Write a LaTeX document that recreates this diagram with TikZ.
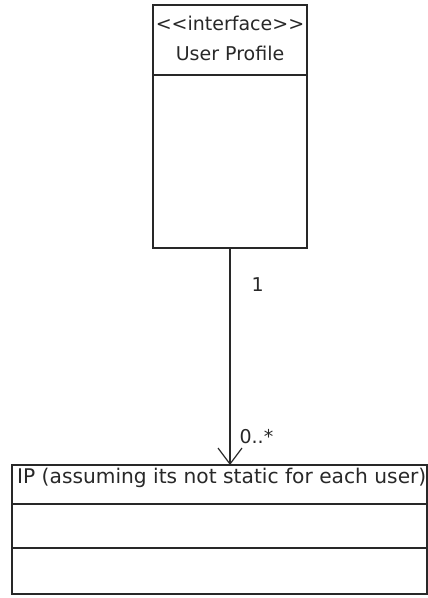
\documentclass[tikz,border=0pt]{standalone}
\usepackage{fontspec}
\setmainfont{DejaVu Sans}
\usetikzlibrary{arrows.meta,positioning}
\definecolor{umlInk}{RGB}{40,40,40}

\begin{document}
\begin{tikzpicture}[x=1pt,y=-1pt,
      cls/.style={draw=umlInk,line width=1.2pt,fill=white,inner sep=0pt,outer sep=0pt},
      lab/.style={font=\fontsize{19}{28}\selectfont,text=umlInk,inner sep=0pt}]
    \useasboundingbox (0,0) rectangle (428,598);
    % interface box
    \node[cls,minimum width=154,minimum height=70,anchor=north west] (upHead) at (153,5) {};
    \node[cls,minimum width=154,minimum height=173,anchor=north] (upBody) at (upHead.south) {};
    \node[lab,anchor=base] (upStereo) at ([yshift=-25pt]upHead.north) {<{}<interface>{}>};
    \node[lab,anchor=base] (upName) at ([yshift=-55pt]upHead.north) {User Profile};
    % class box
    \node[cls,minimum width=415,minimum height=39,anchor=north west] (ipHead) at (12,465) {};
    \node[cls,minimum width=415,minimum height=44,anchor=north] (ipAttr) at (ipHead.south) {};
    \node[cls,minimum width=415,minimum height=46,anchor=north] (ipOps) at (ipAttr.south) {};
    \node[lab,font=\fontsize{20.2}{28}\selectfont,anchor=base west] (ipName)
      at ([xshift=5pt,yshift=-18pt]ipHead.north west) {IP (assuming its not static for each user)};
    % association
    \coordinate (ipTop) at (ipHead.north -| upBody.south);
    \draw[umlInk,line width=1.2pt,-{Straight Barb[length=16pt,width=24pt,line width=1.2pt]}]
      (upBody.south) -- (ipTop)
      node[lab,pos=0.17,anchor=west,xshift=21pt] (multOne) {1}
      node[lab,pos=0.87,anchor=west,xshift=9pt] (multMany) {0..*};
  \end{tikzpicture}
\end{document}
